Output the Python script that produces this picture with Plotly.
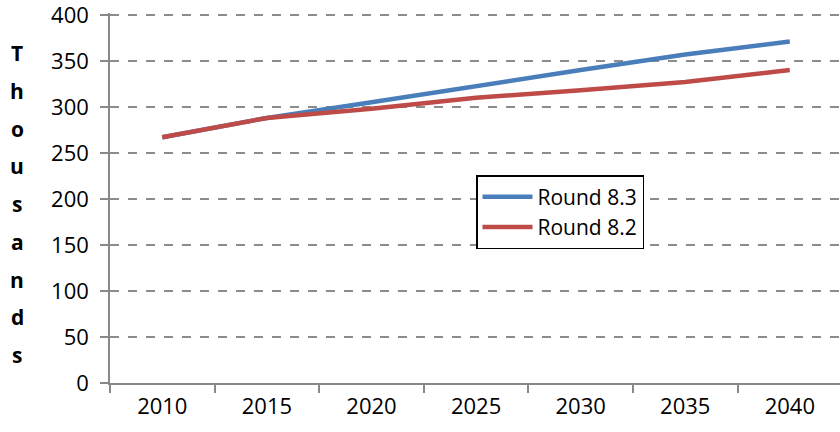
import plotly.graph_objects as go

years = ["2010", "2015", "2020", "2025", "2030", "2035", "2040"]
round_83 = [267, 288, 305, 323, 340, 357, 371]
round_82 = [267, 288, 298, 310, 318, 327, 340]
y_ticks = [0, 50, 100, 150, 200, 250, 300, 350, 400]
axis_title = "Thousands"

FONT = "Open Sans, Lato, Liberation Sans, sans-serif"
FS = 22

fig = go.Figure()
fig.add_trace(go.Scatter(x=years, y=round_83, mode="lines", name="Round 8.3",
                         line=dict(color="#4A7EBB", width=4.5)))
fig.add_trace(go.Scatter(x=years, y=round_82, mode="lines", name="Round 8.2",
                         line=dict(color="#BE4B48", width=4.5)))

# plot area spans x 110..840, y 13..383 on screen
PL, PW, PB, PT = 110, 730, 383, 13
PH = PB - PT
n = len(axis_title)
top_px, bot_px = 53, 355
for i, ch in enumerate(axis_title):
    py = top_px + (bot_px - top_px) * i / (n - 1)
    fig.add_annotation(x=(17 - PL) / PW, xref="paper", y=(PB - py) / PH, yref="paper",
                       text="<b>%s</b>" % ch, showarrow=False,
                       font=dict(family=FONT, size=21, color="black"),
                       xanchor="center", yanchor="middle")

fig.update_layout(
    width=840, height=432,
    margin=dict(l=PL, r=0, t=PT, b=432 - PB),
    paper_bgcolor="white", plot_bgcolor="white",
    font=dict(family=FONT, size=FS, color="black"),
    showlegend=True,
    legend=dict(x=(476 - PL) / PW, y=(PB - 175) / PH, xanchor="left", yanchor="top",
                bordercolor="black", borderwidth=1.5, bgcolor="white",
                font=dict(family=FONT, size=21, color="black"),
                tracegroupgap=0, itemwidth=50),
)
fig.update_xaxes(
    type="category", range=[-0.5, 6.48],
    showgrid=False, showline=True, linecolor="#888888", linewidth=1.5,
    ticks="outside", tickson="boundaries", ticklen=8, tickcolor="#888888", tickwidth=1.5,
    ticklabelstandoff=3,
)
fig.update_yaxes(
    range=[0, 402], tickvals=y_ticks,
    showgrid=True, gridcolor="#8C8C8C", griddash="dash", gridwidth=1.5,
    showline=True, linecolor="#888888", linewidth=1.5,
    ticks="outside", ticklen=8, tickcolor="#888888", tickwidth=1.5,
    ticklabelstandoff=7, zeroline=False, automargin=False, ticklabeloverflow="allow",
)

fig.write_html("out.html", config={"displayModeBar": False},
               post_script="document.body.style.margin='0';document.body.style.overflow='hidden';")
